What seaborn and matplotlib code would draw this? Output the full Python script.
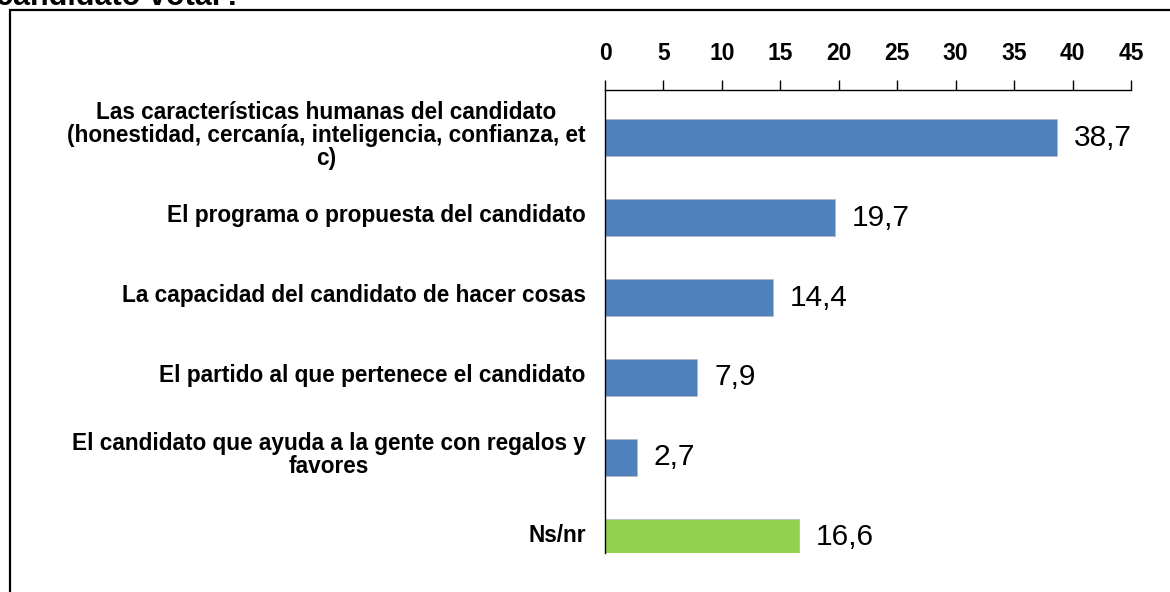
import numpy as np
import pandas as pd
import matplotlib
matplotlib.use("Agg")
import matplotlib.pyplot as plt
import seaborn as sns
from matplotlib.patches import Rectangle
from matplotlib.ticker import FixedLocator

categorias = [
    "Las características humanas del candidato\n(honestidad, cercanía, inteligencia, confianza, et\nc)",
    "El programa o propuesta del candidato",
    "La capacidad del candidato de hacer cosas",
    "El partido al que pertenece el candidato",
    "El candidato que ayuda a la gente con regalos y\nfavores",
    "Ns/nr",
]
valores = [38.7, 19.7, 14.4, 7.9, 2.7, 16.6]
colores = ["#4F81BD", "#4F81BD", "#4F81BD", "#4F81BD", "#4F81BD", "#92D050"]
etiquetas = ["38,7", "19,7", "14,4", "7,9", "2,7", "16,6"]

df = pd.DataFrame({"cat": categorias, "val": valores})

sns.set_style("white")
plt.rcParams["font.family"] = ["Liberation Sans", "DejaVu Sans"]
plt.rcParams["text.color"] = "black"
plt.rcParams["xtick.color"] = "black"
plt.rcParams["ytick.color"] = "black"

fig = plt.figure(figsize=(11.7, 5.92), dpi=100)
ax = fig.add_axes([605 / 1170, 1 - 553 / 592, 526 / 1170, 463 / 592])

sns.barplot(data=df, x="val", y="cat", hue="cat", palette=colores, legend=False,
            saturation=1, width=0.46, edgecolor="#b4bcc8", linewidth=0.6,
            orient="h", ax=ax)

ax.set_xlim(0, 45)
ax.set_ylim(5.194, -0.594)
ax.set_xticks(np.arange(0, 46, 5))
ax.xaxis.tick_top()
ax.tick_params(axis="x", direction="out", length=7, width=1, color="black",
               labelsize=16.5, pad=11)
for t in ax.get_xticklabels():
    t.set_fontweight("bold")

ax.set_yticks(np.arange(6) - 0.06)
ax.set_yticklabels(categorias, fontsize=16.3, fontweight="bold",
                   multialignment="center", linespacing=1.0)
ax.tick_params(axis="y", which="major", length=0, pad=14)
ax.yaxis.set_minor_locator(FixedLocator([-0.594] + [k + 0.394 for k in range(5)]))
ax.tick_params(axis="y", which="minor", direction="out", length=6, width=1, color="black")

ax.set_xlabel("")
ax.set_ylabel("")
for s in ["right", "bottom"]:
    ax.spines[s].set_visible(False)
for s in ["left", "top"]:
    ax.spines[s].set_color("black")
    ax.spines[s].set_linewidth(1)

for i, (v, lab) in enumerate(zip(valores, etiquetas)):
    ax.annotate(lab, xy=(v, i), xytext=(12, 0), textcoords="offset points",
                va="center", ha="left", fontsize=21.5)

fig.patches.append(Rectangle((10 / 1170, -0.2), 1.2, 1.2 - 10 / 592,
                             transform=fig.transFigure, fill=False,
                             edgecolor="black", linewidth=1.6))
fig.text(-4 / 1170, 1 - 5 / 592, "candidato votar?", fontsize=22, fontweight="bold",
         va="baseline", ha="left")

fig.savefig("out.png", dpi=100)
